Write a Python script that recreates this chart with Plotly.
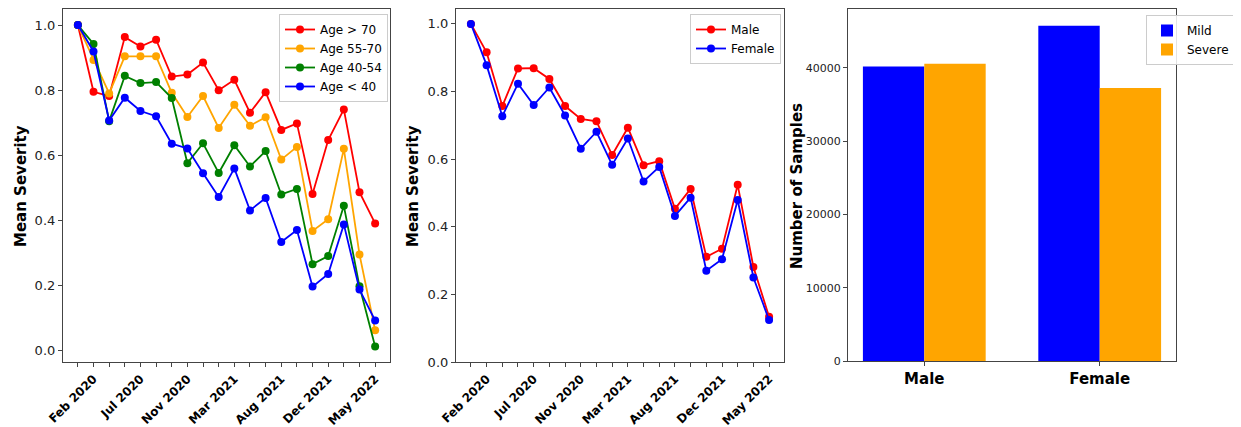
import plotly.graph_objects as go

# ---- data ----
period_idx = list(range(20))
tick_pos = [1, 4, 7, 10, 13, 16, 19]
tick_labels = ["Feb 2020", "Jul 2020", "Nov 2020", "Mar 2021", "Aug 2021", "Dec 2021", "May 2022"]

age_names = ["Age > 70", "Age 55-70", "Age 40-54", "Age < 40"]
age_colors = ["#ff0000", "#ffa500", "#008000", "#0000ff"]
age_gt70 = [1.0, 0.795, 0.782, 0.963, 0.934, 0.955, 0.842, 0.848, 0.885, 0.800,
            0.832, 0.731, 0.794, 0.678, 0.698, 0.481, 0.647, 0.741, 0.487, 0.391]
age_55_70 = [1.0, 0.893, 0.790, 0.904, 0.904, 0.904, 0.792, 0.718, 0.782, 0.684,
             0.755, 0.691, 0.717, 0.587, 0.626, 0.368, 0.404, 0.620, 0.296, 0.063]
age_40_54 = [1.0, 0.942, 0.705, 0.844, 0.822, 0.825, 0.776, 0.576, 0.637, 0.546,
             0.631, 0.566, 0.613, 0.480, 0.497, 0.266, 0.291, 0.445, 0.198, 0.013]
age_lt40 = [1.0, 0.919, 0.707, 0.777, 0.736, 0.720, 0.636, 0.621, 0.545, 0.472,
            0.560, 0.431, 0.469, 0.334, 0.371, 0.197, 0.236, 0.388, 0.188, 0.093]

sex_names = ["Male", "Female"]
sex_colors = ["#ff0000", "#0000ff"]
male_sev = [1.0, 0.916, 0.757, 0.868, 0.869, 0.837, 0.757, 0.719, 0.712, 0.612,
            0.693, 0.582, 0.594, 0.453, 0.512, 0.311, 0.335, 0.524, 0.281, 0.134]
female_sev = [1.0, 0.878, 0.727, 0.823, 0.760, 0.812, 0.729, 0.631, 0.681, 0.583,
              0.661, 0.534, 0.577, 0.432, 0.486, 0.270, 0.304, 0.479, 0.250, 0.124]

bar_cats = ["Male", "Female"]
mild_counts = [40200, 45750]
severe_counts = [40570, 37260]

# ---- figure ----
OFF = 8  # default page body margin
W, H = 1241 - OFF, 427 - OFF
FONT = "DejaVu Sans"
AX = "#444444"

def px_x(p):
    return (p - OFF) / W

def px_y(p):
    return 1 - (p - OFF) / H

fig = go.Figure()

ticktext = [tick_labels[tick_pos.index(i)] if i in tick_pos else "" for i in period_idx]

for name, color, vals in zip(age_names, age_colors, [age_gt70, age_55_70, age_40_54, age_lt40]):
    fig.add_trace(go.Scatter(x=period_idx, y=vals, name=name, mode="lines+markers",
                             line=dict(color=color, width=1.8), marker=dict(color=color, size=8),
                             xaxis="x", yaxis="y", legend="legend"))

for name, color, vals in zip(sex_names, sex_colors, [male_sev, female_sev]):
    fig.add_trace(go.Scatter(x=period_idx, y=vals, name=name, mode="lines+markers",
                             line=dict(color=color, width=1.8), marker=dict(color=color, size=8),
                             xaxis="x2", yaxis="y2", legend="legend2"))

fig.add_trace(go.Bar(x=bar_cats, y=mild_counts, name="Mild", marker=dict(color="#0000ff", line=dict(width=0)),
                     xaxis="x3", yaxis="y3", legend="legend3"))
fig.add_trace(go.Bar(x=bar_cats, y=severe_counts, name="Severe", marker=dict(color="#ffa500", line=dict(width=0)),
                     xaxis="x3", yaxis="y3", legend="legend3"))

common_axis = dict(showline=True, mirror=True, linecolor=AX, linewidth=1.2, ticks="outside",
                   tickcolor=AX, ticklen=4, showgrid=False, zeroline=False, automargin=False)

line_x = dict(common_axis, tickmode="array", tickvals=period_idx, ticktext=ticktext, tickangle=-45,
              tickfont=dict(family=FONT, size=12, color="black", weight="bold"), range=[-0.95, 19.95])

title_font = dict(family=FONT, size=15, color="black", weight="bold")

fig.update_layout(
    width=W, height=H, margin=dict(l=0, r=0, t=0, b=0, autoexpand=False),
    paper_bgcolor="white", plot_bgcolor="white",
    font=dict(family=FONT, color="black"),
    barmode="group", bargap=0.3, bargroupgap=0,
    xaxis=dict(line_x, domain=[px_x(63), px_x(390)], anchor="y"),
    yaxis=dict(common_axis, domain=[px_y(362), px_y(9)], anchor="x", range=[-0.0344, 1.0493],
               tickvals=[0, 0.2, 0.4, 0.6, 0.8, 1.0], ticktext=["0.0", "0.2", "0.4", "0.6", "0.8", "1.0"],
               tickfont=dict(family=FONT, size=13, color="#222")),
    xaxis2=dict(line_x, domain=[px_x(456), px_x(784)], anchor="y2"),
    yaxis2=dict(common_axis, domain=[px_y(362), px_y(9)], anchor="x2", range=[0, 1.044],
                tickvals=[0, 0.2, 0.4, 0.6, 0.8, 1.0], ticktext=["0.0", "0.2", "0.4", "0.6", "0.8", "1.0"],
                tickfont=dict(family=FONT, size=13, color="#222")),
    xaxis3=dict(common_axis, domain=[px_x(848), px_x(1176)], anchor="y3", range=[-0.435, 1.435],
                tickfont=dict(family=FONT, size=15, color="black", weight="bold")),
    yaxis3=dict(common_axis, domain=[px_y(361), px_y(9)], anchor="x3", range=[0, 48040],
                tickvals=[0, 10000, 20000, 30000, 40000], tickformat="d",
                tickfont=dict(family=FONT, size=11, color="#222")),
    legend=dict(x=px_x(388), y=px_y(14), xanchor="right", yanchor="top",
                bordercolor="#cccccc", borderwidth=1, bgcolor="rgba(255,255,255,0.85)",
                font=dict(family=FONT, size=12)),
    legend2=dict(x=px_x(781), y=px_y(14), xanchor="right", yanchor="top",
                 bordercolor="#cccccc", borderwidth=1, bgcolor="rgba(255,255,255,0.85)",
                 font=dict(family=FONT, size=12)),
    legend3=dict(x=px_x(1146), y=px_y(15), xanchor="left", yanchor="top", itemwidth=30,
                 bordercolor="#cccccc", borderwidth=1, bgcolor="rgba(255,255,255,0.85)",
                 font=dict(family=FONT, size=12)),
    annotations=[
        dict(text="Mean Severity", x=px_x(21), y=px_y(186), xref="paper", yref="paper", textangle=-90,
             xanchor="center", yanchor="middle", showarrow=False, font=title_font),
        dict(text="Mean Severity", x=px_x(413), y=px_y(186), xref="paper", yref="paper", textangle=-90,
             xanchor="center", yanchor="middle", showarrow=False, font=title_font),
        dict(text="Number of Samples", x=px_x(797), y=px_y(186), xref="paper", yref="paper", textangle=-90,
             xanchor="center", yanchor="middle", showarrow=False, font=title_font),
    ],
)

fig.write_html("out.html")
